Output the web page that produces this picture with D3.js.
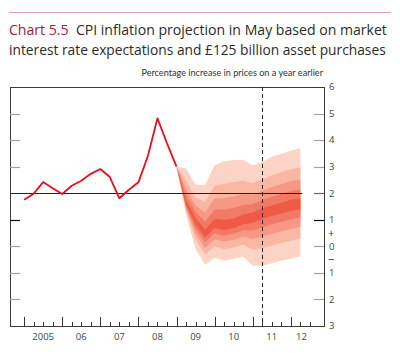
<!DOCTYPE html>
<html>
<head>
<meta charset="utf-8">
<script src="https://cdn.jsdelivr.net/npm/d3@7"></script>
<style>
body { margin: 0; background: #fff; }
text { font-family: "Open Sans", "Noto Sans", sans-serif; }
</style>
</head>
<body>
<div id="chart"></div>
<script>
// CPI history, quarterly from 2005 Q1 to 2009 Q1
var histDates = [2005, 2005.25, 2005.5, 2005.75, 2006, 2006.25, 2006.5, 2006.75,
                 2007, 2007.25, 2007.5, 2007.75, 2008, 2008.25, 2008.5, 2008.75, 2009];
var histCPI = [1.75, 1.98, 2.42, 2.19, 1.97, 2.28, 2.47, 2.73,
               2.91, 2.61, 1.81, 2.13, 2.41, 3.41, 4.82, 3.88, 3.0];

// fan chart band edges (percentiles), quarterly from 2009 Q1 to 2012 Q2
var fanDates = [2009, 2009.25, 2009.5, 2009.75, 2010, 2010.25, 2010.5, 2010.75,
                2011, 2011.25, 2011.5, 2011.75, 2012, 2012.25];
var p05 = [3.0, 1.20, -0.10, -0.69, -0.43, -0.54, -0.47, -0.39, -0.73, -0.73, -0.64, -0.54, -0.47, -0.37];
var p15 = [3.0, 1.34, 0.25, -0.31, -0.01, -0.11, -0.04, 0.07, -0.12, -0.06, 0.03, 0.13, 0.21, 0.30];
var p25 = [3.0, 1.42, 0.48, -0.06, 0.26, 0.18, 0.25, 0.37, 0.28, 0.37, 0.47, 0.57, 0.66, 0.73];
var p35 = [3.0, 1.50, 0.66, 0.15, 0.49, 0.41, 0.48, 0.61, 0.60, 0.72, 0.83, 0.93, 1.02, 1.09];
var p45 = [3.0, 1.56, 0.83, 0.33, 0.69, 0.61, 0.68, 0.83, 0.89, 1.03, 1.14, 1.24, 1.34, 1.40];
var p55 = [3.0, 1.73, 1.07, 0.63, 1.03, 0.99, 1.05, 1.19, 1.27, 1.43, 1.54, 1.64, 1.75, 1.81];
var p65 = [3.0, 1.95, 1.29, 0.93, 1.39, 1.38, 1.44, 1.56, 1.59, 1.74, 1.87, 1.97, 2.08, 2.14];
var p75 = [3.0, 2.19, 1.54, 1.27, 1.80, 1.82, 1.88, 1.97, 1.94, 2.09, 2.23, 2.34, 2.45, 2.52];
var p85 = [3.0, 2.48, 1.85, 1.68, 2.29, 2.36, 2.42, 2.47, 2.38, 2.52, 2.68, 2.79, 2.90, 2.98];
var p95 = [3.0, 2.94, 2.32, 2.32, 3.05, 3.20, 3.25, 3.25, 3.05, 3.18, 3.37, 3.48, 3.60, 3.69];

var yTicks = [6, 5, 4, 3, 2, 1, 0, -1, -2, -3];
var yearLabels = ["2005", "06", "07", "08", "09", "10", "11", "12"];
var yearLabelPos = [2005.5, 2006.5, 2007.5, 2008.5, 2009.5, 2010.5, 2011.5, 2012.28];
var inflationTarget = 2;
var forecastMark = 2011.25;

var width = 400, height = 354;
var margin = { top: 87, right: 76, bottom: 28, left: 10 };

var svg = d3.select("#chart")
    .append("svg")
    .attr("width", width)
    .attr("height", height);

var x = d3.scaleLinear().domain([2004.63, 2012.87]).range([margin.left, width - margin.right]);
var y = d3.scaleLinear().domain([-3, 6]).range([height - margin.bottom, margin.top]);

// top rule
svg.append("line")
    .attr("x1", 9).attr("x2", 391)
    .attr("y1", 12.5).attr("y2", 12.5)
    .attr("stroke", "#d3a3a8")
    .attr("stroke-width", 1.2);

// title, fitted to width
function fitText(sel, target) {
    var len = sel.node().getComputedTextLength();
    var fs = parseFloat(sel.attr("font-size"));
    sel.attr("font-size", fs * target / len);
}
var t1 = svg.append("text")
    .attr("x", 9).attr("y", 35)
    .attr("font-size", 15)
    .attr("fill", "#2b2b2b");
t1.append("tspan").attr("fill", "#9b1b3e").text("Chart 5.5");
t1.append("tspan").text("\u00a0 CPI inflation projection in May based on market");
fitText(t1, 378);

var t2 = svg.append("text")
    .attr("x", 9).attr("y", 55)
    .attr("font-size", 15)
    .attr("fill", "#2b2b2b")
    .text("interest rate expectations and \u00a3125 billion asset purchases");
fitText(t2, 377);

var sub = svg.append("text")
    .attr("x", 323).attr("y", 76)
    .attr("text-anchor", "end")
    .attr("font-size", 9)
    .attr("fill", "#333")
    .style("font-family", "Lato, 'Open Sans', sans-serif")
    .text("Percentage increase in prices on a year earlier");
fitText(sub, 182);

// fan: draw nested ranges from widest to narrowest
var fanPairs = [[p05, p95], [p15, p85], [p25, p75], [p35, p65], [p45, p55]];
var shades = ["#fcd3c5", "#f9b6a3", "#f69883", "#f27964", "#ee5a45"];

var area = d3.area()
    .x(function (d, i) { return x(fanDates[i]); })
    .y0(function (d) { return y(d[0]); })
    .y1(function (d) { return y(d[1]); });

fanPairs.forEach(function (pair, k) {
    var rows = fanDates.map(function (t, i) { return [pair[0][i], pair[1][i]]; });
    svg.append("path")
        .attr("d", area(rows))
        .attr("fill", shades[k]);
});

// frame
var x0 = margin.left, x1 = width - margin.right;
var yTop = margin.top, yBot = height - margin.bottom;
svg.append("rect")
    .attr("x", x0 + 0.5).attr("y", yTop + 0.5)
    .attr("width", x1 - x0).attr("height", yBot - yTop)
    .attr("fill", "none")
    .attr("stroke", "#3a3a3a")
    .attr("stroke-width", 1);

// y ticks on both sides
yTicks.forEach(function (v) {
    if (v === 6 || v === -3) return;
    var col = v === 1 ? "#111" : "#a0a0a0";
    if (v !== inflationTarget) {
        svg.append("line")
            .attr("x1", x0).attr("x2", x0 + 10)
            .attr("y1", Math.round(y(v)) + 0.5).attr("y2", Math.round(y(v)) + 0.5)
            .attr("stroke", col).attr("stroke-width", 1.2);
    }
    svg.append("line")
        .attr("x1", x1 - 10).attr("x2", x1)
        .attr("y1", Math.round(y(v)) + 0.5).attr("y2", Math.round(y(v)) + 0.5)
        .attr("stroke", v === inflationTarget ? "#666" : col).attr("stroke-width", 1.2);
});

// y labels
svg.selectAll(".ylab")
    .data(yTicks)
    .enter().append("text")
    .attr("class", "ylab")
    .attr("x", x1 + 5)
    .attr("y", function (d) { return y(d); })
    .attr("dy", "0.35em")
    .attr("font-size", 9.5)
    .attr("fill", "#444")
    .text(function (d) { return Math.abs(d); });

svg.append("text")
    .attr("x", x1 + 4).attr("y", y(0.5)).attr("dy", "0.35em")
    .attr("font-size", 11).attr("fill", "#1c3a8c")
    .text("+");
svg.append("text")
    .attr("x", x1 + 4).attr("y", y(-0.5)).attr("dy", "0.35em")
    .attr("font-size", 11).attr("fill", "#222")
    .text("\u2212");

// inflation target line
svg.append("line")
    .attr("x1", x0).attr("x2", x(2012.3))
    .attr("y1", Math.round(y(inflationTarget)) + 0.5).attr("y2", Math.round(y(inflationTarget)) + 0.5)
    .attr("stroke", "#222").attr("stroke-width", 1);

// forecast horizon marker
svg.append("line")
    .attr("x1", Math.round(x(forecastMark)) + 0.5).attr("x2", Math.round(x(forecastMark)) + 0.5)
    .attr("y1", yTop).attr("y2", yBot)
    .attr("stroke", "#222").attr("stroke-width", 1)
    .attr("stroke-dasharray", "4,3");

// x axis quarter ticks
var qTicks = d3.range(2005, 2012.75, 0.25);
svg.selectAll(".xtick")
    .data(qTicks)
    .enter().append("line")
    .attr("class", "xtick")
    .attr("x1", function (d) { return Math.round(x(d)) + 0.5; })
    .attr("x2", function (d) { return Math.round(x(d)) + 0.5; })
    .attr("y1", yBot)
    .attr("y2", function (d) { return d % 1 === 0 ? yBot - 9 : yBot - 4; })
    .attr("stroke", "#333").attr("stroke-width", 1);

svg.selectAll(".xlab")
    .data(yearLabels)
    .enter().append("text")
    .attr("class", "xlab")
    .attr("x", function (d, i) { return x(yearLabelPos[i]); })
    .attr("y", yBot + 14)
    .attr("text-anchor", "middle")
    .attr("font-size", 9.5)
    .attr("fill", "#444")
    .text(function (d) { return d; });

// CPI history line
var line = d3.line()
    .x(function (d, i) { return x(histDates[i]); })
    .y(function (d) { return y(d); });

svg.append("path")
    .attr("d", line(histCPI))
    .attr("fill", "none")
    .attr("stroke", "#e3101c")
    .attr("stroke-width", 1.8)
    .attr("stroke-linejoin", "round");
</script>
</body>
</html>
